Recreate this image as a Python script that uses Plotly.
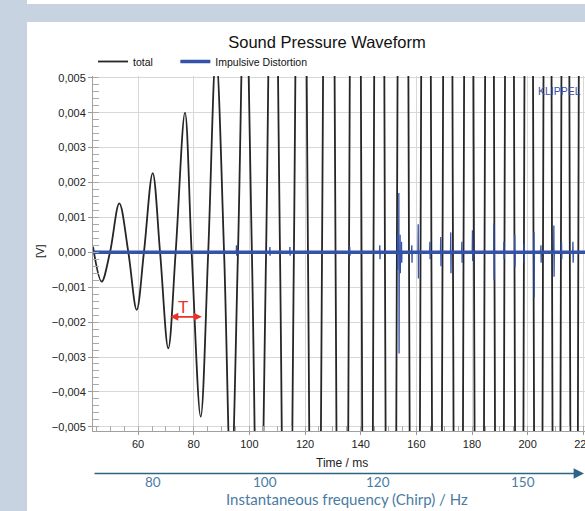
import plotly.graph_objects as go

# ---------------- data ----------------
# "total" waveform: extrema and zero crossings (time in ms, value in V)
total_t = [43.8, 46.9, 49.9, 53.25, 56.5, 59.5, 62.1, 65.25, 67.9, 70.85, 73.5,
           76.85, 79.25, 82.5, 85.2, 88.0, 90.9, 93.4, 95.9, 98.4, 100.9, 103.4,
           106.0, 108.5, 111.0, 113.5, 116.0, 118.5, 121.05, 123.6, 126.1, 128.5,
           130.95, 133.4, 135.8, 138.0, 140.3, 142.4, 144.6, 146.7, 148.7, 150.9,
           153.0, 155.2, 157.35, 159.4, 161.5, 163.5, 165.4, 167.4, 169.4, 171.3,
           173.15, 175.0, 176.95, 178.8, 180.7, 182.6, 184.5, 186.3, 188.05, 189.9,
           191.65, 193.5, 195.25, 197.0, 198.65, 200.4, 202.1, 203.8, 205.5, 207.1,
           208.75, 210.3, 211.95, 213.5, 215.15, 216.7, 218.2, 219.7, 221.3]
total_v = [0.00016, -0.00084, 0.0, 0.0014, 0.0, -0.00165, 0.0, 0.00227, 0.0, -0.00275, 0.0,
           0.0040, 0.0, -0.00471, 0.0, 0.0057, 0.0, -0.0068, 0.0, 0.0085, 0.0, -0.011,
           0.0, 0.014, 0.0, -0.018, 0.0, 0.022, 0.0, -0.026, 0.0, 0.030,
           0.0, -0.034, 0.0, 0.038, 0.0, -0.040, 0.0, 0.040, 0.0, -0.040,
           0.0, 0.040, 0.0, -0.040, 0.0, 0.040, 0.0, -0.040, 0.0, 0.040,
           0.0, -0.040, 0.0, 0.040, 0.0, -0.040, 0.0, 0.040, 0.0, -0.040,
           0.0, 0.040, 0.0, -0.040, 0.0, 0.040, 0.0, -0.040, 0.0, 0.040,
           0.0, -0.040, 0.0, 0.040, 0.0, -0.040, 0.0, 0.040, 0.0]

# "Impulsive Distortion": baseline and individual spikes (time, peak up, peak down)
impulse_base_t = [43.8, 220.6]
impulse_base_v = [0.0, 0.0]
spike_t = [95.4, 107.4, 114.6, 136.1, 146.9, 153.3, 153.75, 154.2, 154.7, 158.4,
           160.7, 164.9, 168.8, 172.4, 176.4, 180.2, 187.9, 191.5, 195.4, 198.7,
           202.3, 204.8, 209.45, 212.2, 216.3]
spike_up = [0.0002, 0.00015, 0.00015, 0.00015, 0.0002, 0.0005, 0.0017, 0.0005, 0.0003, 0.0002,
            0.0008, 0.0003, 0.00044, 0.00057, 0.0003, 0.00063, 0.00083, 0.0003, 0.0005, 0.00025,
            0.00058, 0.0002, 0.00077, 0.0003, 0.0003]
spike_down = [-0.0001, -0.0001, -0.0001, -0.0001, -0.0002, -0.0005, -0.0029, -0.0006, -0.0003, -0.0003,
              -0.00075, -0.0002, -0.0004, -0.0006, -0.0003, -0.00025, -0.0008, -0.0002, -0.00043, -0.0003,
              -0.00128, -0.0003, -0.0007, -0.0002, -0.0003]

# chirp instantaneous frequency labels (Hz) and the time where they sit
freq_labels = ["80", "100", "120", "150"]
freq_label_t = [65.3, 105.6, 146.3, 198.4]

y_ticks = [-0.005, -0.004, -0.003, -0.002, -0.001, 0.0, 0.001, 0.002, 0.003, 0.004, 0.005]
x_ticks = [60, 80, 100, 120, 140, 160, 180, 200, 220]

# ---------------- build spike polyline ----------------
sx, sy = [], []
for t, u, d in zip(spike_t, spike_up, spike_down):
    sx += [t - 0.12, t - 0.04, t + 0.04, t + 0.12, None]
    sy += [0.0, u, d, 0.0, None]

BLUE = "#3352a8"
FONT = "Liberation Sans, Arial, sans-serif"
LATO = "Lato, Open Sans, sans-serif"
NB = "\u00a0"

fig = go.Figure()
fig.add_trace(go.Scatter(x=total_t, y=total_v, mode="lines", name="total" + NB * 6,
                         line=dict(color="#262626", width=1.8, shape="spline", smoothing=1.0)))
fig.add_trace(go.Scatter(x=impulse_base_t, y=impulse_base_v, mode="lines",
                         name="Impulsive Distortion", line=dict(color=BLUE, width=3.5)))
fig.add_trace(go.Scatter(x=sx, y=sy, mode="lines", showlegend=False,
                         line=dict(color=BLUE, width=1.3)))

# plot area pixels: x 93..585, y 76..431
L, R, T, B = 93, 585, 76, 431
W, H = R - L, B - T
def px(x):
    return (x - L) / W
def py(y):
    return (B - y) / H

shapes = [
    dict(type="rect", xref="paper", yref="paper", x0=px(0), x1=px(27), y0=py(511), y1=py(0),
         fillcolor="#c7d3e0", line=dict(width=0), layer="below"),
    dict(type="rect", xref="paper", yref="paper", x0=px(27), x1=px(585), y0=py(22), y1=py(4),
         fillcolor="#c7d3e0", line=dict(width=0), layer="below"),
]

def note(text, x, y, xref="paper", yref="paper", **kw):
    d = dict(text=text, x=x, y=y, xref=xref, yref=yref, showarrow=False,
             xanchor="center", yanchor="middle")
    d.update(kw)
    return d

annotations = [
    note("[V]", px(40), py(252), textangle=-90, font=dict(family=FONT, size=11, color="#222")),
    note("Time / ms", px(342), py(463), font=dict(family=FONT, size=12, color="#222")),
    note("KLIPPEL", px(583), py(91), xanchor="right", font=dict(family=FONT, size=10.5, color="#3a4fa8")),
    # arrow for instantaneous frequency axis
    dict(text="", xref="paper", yref="paper", x=px(585), y=py(473.5), ax=-492, ay=0,
         showarrow=True, arrowhead=2, arrowsize=1.3, arrowwidth=1.6, arrowcolor="#2f6384"),
    note("Instantaneous frequency (Chirp) / Hz", px(347), py(499),
         font=dict(family=LATO, size=15, color="#4a7ba3")),
    # T marker
    dict(text="", x=82.9, y=-0.00185, xref="x", yref="y", ax=-33, ay=0,
         showarrow=True, arrowhead=2, arrowside="end+start", arrowsize=1.0,
         arrowwidth=1.6, arrowcolor="#e8322a"),
    note("T", 76.3, -0.00158, xref="x", yref="y", font=dict(family=FONT, size=17, color="#e8322a")),
]
for lab, t in zip(freq_labels, freq_label_t):
    annotations.append(note(lab, t, py(482), xref="x",
                            font=dict(family=LATO, size=13.5, color="#4a7ba3")))

fig.update_layout(
    template="none",
    width=585, height=511,
    margin=dict(l=L, r=585 - R, t=T, b=511 - B, pad=0, autoexpand=False),
    paper_bgcolor="white", plot_bgcolor="white",
    separators=", ",
    title=dict(text="Sound Pressure Waveform", x=327 / 585, xref="container", xanchor="center",
               y=1 - 42 / 511, yref="container", yanchor="middle",
               font=dict(family=FONT, size=16.5, color="#111")),
    legend=dict(orientation="h", x=0.0, xanchor="left", y=py(47), yanchor="top",
                font=dict(family=FONT, size=10.5, color="#111"), bgcolor="rgba(0,0,0,0)",
                tracegroupgap=0),
    shapes=shapes, annotations=annotations,
    xaxis=dict(range=[43.8, 220.6], tickvals=x_ticks, ticks="outside", ticklen=3,
               automargin=False,
               tickcolor="#999", showline=True, linecolor="#a0a0a0", linewidth=1,
               showgrid=True, gridcolor="#d8d8d8", gridwidth=1, zeroline=False,
               ticklabeloverflow="allow",
               tickfont=dict(family=FONT, size=11, color="#222"),
               minor=dict(dtick=5, tick0=0, ticks="inside", ticklen=5, tickcolor="#aaa", showgrid=False)),
    yaxis=dict(range=[-0.00512, 0.00505], tickvals=y_ticks, tickformat=".3f",
               automargin=False,
               ticks="outside", ticklen=4, tickcolor="#999",
               showline=True, linecolor="#a0a0a0", linewidth=1,
               showgrid=True, gridcolor="#d8d8d8", gridwidth=1, zeroline=False,
               tickfont=dict(family=FONT, size=11, color="#222"),
               minor=dict(dtick=0.0002, tick0=0, ticks="inside", ticklen=6, tickcolor="#aaa", showgrid=False)),
)

fig.write_html("out.html", config={"displayModeBar": False},
               post_script="document.body.style.margin='0';document.body.style.padding='0';"
                           "document.documentElement.style.overflow='hidden';")
